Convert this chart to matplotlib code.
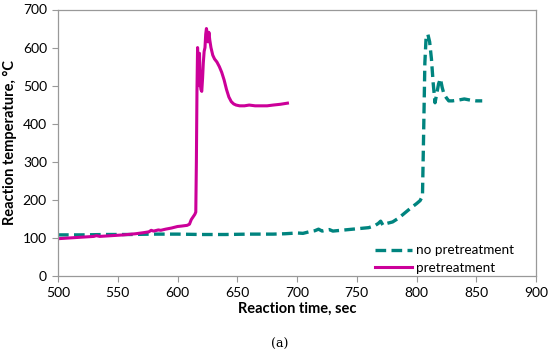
import matplotlib
matplotlib.use("Agg")
import matplotlib.pyplot as plt

# no pretreatment (teal dashed)
t_nopre = [500, 520, 540, 560, 580, 600, 620, 640, 660, 680, 690, 700, 705, 710, 715, 718, 721, 725, 727, 730,
           740, 750, 760, 765, 768, 770, 772, 775, 780, 785, 790, 795, 800, 803, 805, 806, 807, 808, 809.5,
           811, 812.5, 814, 815.5, 817, 818.5, 820, 821.5, 823, 825, 827, 830, 835, 840, 845, 850, 855]
T_nopre = [108, 108, 109, 109, 110, 110, 109, 109, 110, 110, 111, 113, 112, 116, 119, 123, 118, 121, 122, 118,
           121, 124, 127, 132, 138, 144, 133, 138, 142, 152, 165, 178, 190, 198, 210, 380, 560, 625, 635,
           615, 570, 505, 455, 480, 505, 518, 495, 478, 468, 460, 460, 462, 465, 462, 460, 460]

# pretreatment (magenta solid)
t_pre = [500, 510, 520, 530, 532, 535, 545, 555, 565, 572, 576, 578, 580, 584, 586, 590, 595, 600, 603, 608,
         610, 611.5, 613, 614.5, 615.3, 615.8, 616.3, 616.8, 617.3, 617.8, 618.4, 619, 619.6, 620.3, 621,
         621.6, 622.3, 623, 623.6, 624.2, 624.8, 625.5, 626.3, 627, 628, 629.5, 631, 633, 635, 637, 639,
         641, 643, 645, 647, 649, 652, 656, 660, 665, 670, 675, 680, 686, 692]
T_pre = [98, 100, 102, 104, 106, 104, 106, 108, 111, 114, 116, 120, 118, 121, 120, 123, 126, 130, 131, 133,
         136, 148, 155, 162, 168, 300, 490, 600, 540, 500, 585, 505, 490, 485, 520, 560, 590, 600, 635, 650,
         640, 615, 640, 620, 600, 580, 570, 562, 550, 535, 515, 490, 470, 458, 452, 449, 447, 447, 449, 447,
         447, 447, 449, 451, 454]

x_ticks = [500, 550, 600, 650, 700, 750, 800, 850, 900]
y_ticks = [0, 100, 200, 300, 400, 500, 600, 700]

plt.rcParams['font.family'] = ['Lato', 'DejaVu Sans']

fig = plt.figure(figsize=(5.5, 3.54), dpi=100)
ax = fig.add_axes([58/550, (354-276)/354, (536-58)/550, (276-9.5)/354])

teal = '#00847f'
mag = '#cc0099'
ax.plot(t_nopre, T_nopre, color=teal, lw=2.4, ls=(0, (3.2, 1.6)), label='no pretreatment')
ax.plot(t_pre, T_pre, color=mag, lw=2.2, label='pretreatment')

ax.set_xlim(500, 900)
ax.set_ylim(0, 700)
ax.set_xticks(x_ticks)
ax.set_yticks(y_ticks)
ax.tick_params(direction='out', length=4, width=0.8, color='#999999', labelsize=10, labelcolor='#000000', pad=4)
for s in ax.spines.values():
    s.set_color('#999999')
    s.set_linewidth(0.9)

ax.set_xlabel('Reaction time, sec', fontsize=10.5, fontweight='bold', labelpad=2)
ax.set_ylabel('Reaction temperature, °C', fontsize=10.5, fontweight='bold', labelpad=4)

leg = ax.legend(loc='lower left', frameon=False, fontsize=9.7, handlelength=2.75, handletextpad=0.3,
                labelspacing=0.4, borderpad=0, borderaxespad=0, bbox_to_anchor=((375-58)/478, 0.008))

fig.text(280/550, 1 - 344/354, '(a)', ha='center', va='center', fontsize=9, family='DejaVu Serif')

fig.savefig('out.png', dpi=100)
